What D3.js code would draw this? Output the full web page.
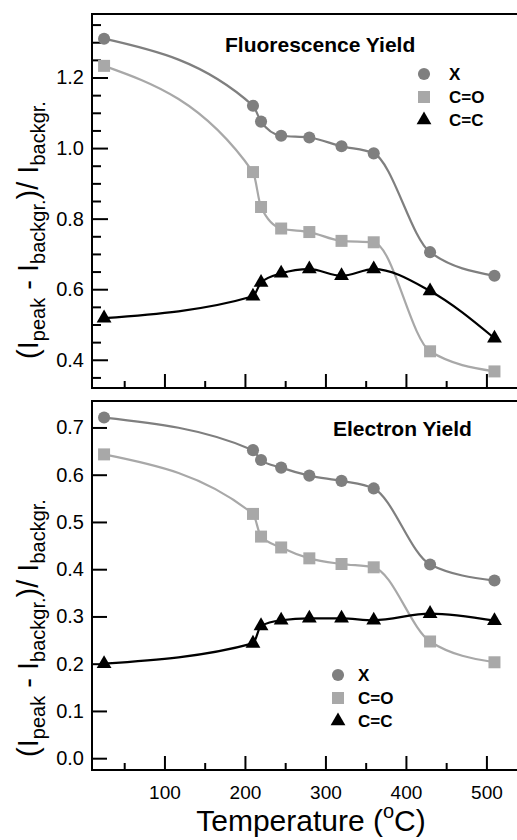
<!DOCTYPE html>
<html>
<head>
<meta charset="utf-8">
<script src="https://cdn.jsdelivr.net/npm/d3@7"></script>
<style>
  body { margin: 0; background: #fff; }
  svg { display: block; }
  text { font-family: "Liberation Sans", Arial, Helvetica, sans-serif; fill: #000; }
</style>
</head>
<body>
<svg id="chart" width="517" height="840"></svg>
<script>
// temperatures (°C) of the measured points
const temps = [25, 210, 220, 245, 280, 320, 360, 430, 510];

// fluorescence yield
const fluoX  = [1.31, 1.12, 1.075, 1.035, 1.03, 1.005, 0.985, 0.705, 0.638];
const fluoCO = [1.233, 0.932, 0.833, 0.772, 0.762, 0.737, 0.733, 0.424, 0.367];
const fluoCC = [0.518, 0.58, 0.619, 0.645, 0.657, 0.638, 0.657, 0.595, 0.461];

// electron yield
const elecX  = [0.721, 0.652, 0.631, 0.615, 0.598, 0.587, 0.571, 0.410, 0.376];
const elecCO = [0.643, 0.517, 0.469, 0.446, 0.423, 0.411, 0.404, 0.247, 0.203];
const elecCC = [0.2, 0.243, 0.28, 0.292, 0.296, 0.296, 0.292, 0.306, 0.291];

const seriesNames = ["X", "C=O", "C=C"];
const xTicks = [100, 200, 300, 400, 500];
const xMinorTicks = [50, 150, 250, 350, 450];
const yTicksTop = [0.4, 0.6, 0.8, 1.0, 1.2];
const yMinorTop = [0.35, 0.45, 0.5, 0.55, 0.65, 0.7, 0.75, 0.85, 0.9, 0.95,
                   1.05, 1.1, 1.15, 1.25, 1.3, 1.35];
const yTicksBottom = [0.0, 0.1, 0.2, 0.3, 0.4, 0.5, 0.6, 0.7];

const colors = { "X": "#7f7f7f", "C=O": "#a8a8a8", "C=C": "#000" };
const symbols = { "X": d3.symbolCircle, "C=O": d3.symbolSquare, "C=C": d3.symbolTriangle };
const symSize = { "X": 115, "C=O": 144, "C=C": 95 };

const svg = d3.select("#chart");
const left = 92, right = 517;

const x = d3.scaleLinear().domain([10, 538]).range([left, right]);

const panels = [
  {
    title: "Fluorescence Yield", titleX: 225, titleY: 52,
    y: d3.scaleLinear().domain([0.32, 1.38]).range([388, 14]),
    values: [fluoX, fluoCO, fluoCC],
    ticks: yTicksTop, minor: yMinorTop,
    majorLen: 16, minorLen: 9,
    legendX: 424, legendY: 74, labelX: 449,
    labelCenter: 230, xLabels: false
  },
  {
    title: "Electron Yield", titleX: 333, titleY: 436,
    y: d3.scaleLinear().domain([-0.025, 0.756]).range([770, 401]),
    values: [elecX, elecCO, elecCC],
    ticks: yTicksBottom, minor: [],
    majorLen: 15, minorLen: 8,
    legendX: 338, legendY: 675, labelX: 358,
    labelCenter: 628, xLabels: true
  }
];

panels.forEach(function(p) {
  const [y0, y1] = p.y.range();
  const g = svg.append("g");

  // y axis, ticks pointing inward
  const yAx = g.append("g")
    .attr("transform", "translate(" + left + ",0)")
    .call(d3.axisLeft(p.y).tickValues(p.ticks).tickFormat(d3.format(".1f"))
      .tickSize(-p.majorLen).tickPadding(8));
  yAx.select(".domain").remove();
  yAx.selectAll("line").attr("stroke-width", 2);
  yAx.selectAll("text").attr("font-size", 20);

  if (p.minor.length) {
    const yMin = g.append("g")
      .attr("transform", "translate(" + left + ",0)")
      .call(d3.axisLeft(p.y).tickValues(p.minor).tickFormat("").tickSize(-p.minorLen));
    yMin.select(".domain").remove();
    yMin.selectAll("line").attr("stroke-width", 2);
  }

  // x axis at bottom of the panel
  const xAx = g.append("g")
    .attr("transform", "translate(0," + y0 + ")")
    .call(d3.axisBottom(x).tickValues(xTicks)
      .tickFormat(p.xLabels ? d3.format("d") : "")
      .tickSize(-14).tickPadding(16));
  xAx.select(".domain").remove();
  xAx.selectAll("line").attr("stroke-width", 2);
  xAx.selectAll("text").attr("font-size", 19);

  const xMin = g.append("g")
    .attr("transform", "translate(0," + y0 + ")")
    .call(d3.axisBottom(x).tickValues(xMinorTicks).tickFormat("").tickSize(-7));
  xMin.select(".domain").remove();
  xMin.selectAll("line").attr("stroke-width", 2);

  // frame (right side runs off the picture)
  g.append("rect")
    .attr("x", left).attr("y", y1)
    .attr("width", 520).attr("height", y0 - y1)
    .attr("fill", "none").attr("stroke", "#000").attr("stroke-width", 2);

  // smooth curves through the points
  const line = d3.line()
    .x(function(d) { return x(d[0]); })
    .y(function(d) { return p.y(d[1]); })
    .curve(d3.curveMonotoneX);

  seriesNames.forEach(function(name, i) {
    const pts = temps.map(function(t, j) { return [t, p.values[i][j]]; });
    g.append("path")
      .datum(pts)
      .attr("d", line)
      .attr("fill", "none")
      .attr("stroke", colors[name])
      .attr("stroke-width", 2.2);
  });

  seriesNames.forEach(function(name, i) {
    const pts = temps.map(function(t, j) { return [t, p.values[i][j]]; });
    g.selectAll(null)
      .data(pts)
      .enter().append("path")
      .attr("transform", function(d) { return "translate(" + x(d[0]) + "," + p.y(d[1]) + ")"; })
      .attr("d", d3.symbol().type(symbols[name]).size(symSize[name]))
      .attr("fill", colors[name]);
  });

  // title
  g.append("text")
    .attr("x", p.titleX).attr("y", p.titleY)
    .attr("font-size", 21).attr("font-weight", "bold")
    .text(p.title);

  // legend
  seriesNames.forEach(function(name, i) {
    const ly = p.legendY + i * 23;
    g.append("path")
      .attr("transform", "translate(" + p.legendX + "," + ly + ")")
      .attr("d", d3.symbol().type(symbols[name]).size(symSize[name]))
      .attr("fill", colors[name]);
    g.append("text")
      .attr("x", p.labelX).attr("y", ly + 6)
      .attr("font-size", 17).attr("font-weight", "bold")
      .text(name);
  });

  // y axis title
  const yl = g.append("text")
    .attr("transform", "translate(38," + p.labelCenter + ") rotate(-90)")
    .attr("text-anchor", "middle")
    .attr("font-size", 29);
  yl.append("tspan").text("(I");
  yl.append("tspan").attr("font-size", 20).attr("dy", 7).text("peak");
  yl.append("tspan").attr("dy", -7).text(" - I");
  yl.append("tspan").attr("font-size", 20).attr("dy", 7).text("backgr.");
  yl.append("tspan").attr("dy", -7).text(")/ I");
  yl.append("tspan").attr("font-size", 20).attr("dy", 7).text("backgr.");
});

// x axis title
const xl = svg.append("text")
  .attr("x", 311).attr("y", 831)
  .attr("text-anchor", "middle")
  .attr("font-size", 30);
xl.append("tspan").text("Temperature (");
xl.append("tspan").attr("font-size", 20).attr("dy", -13).text("o");
xl.append("tspan").attr("dy", 13).text("C)");
</script>
</body>
</html>
